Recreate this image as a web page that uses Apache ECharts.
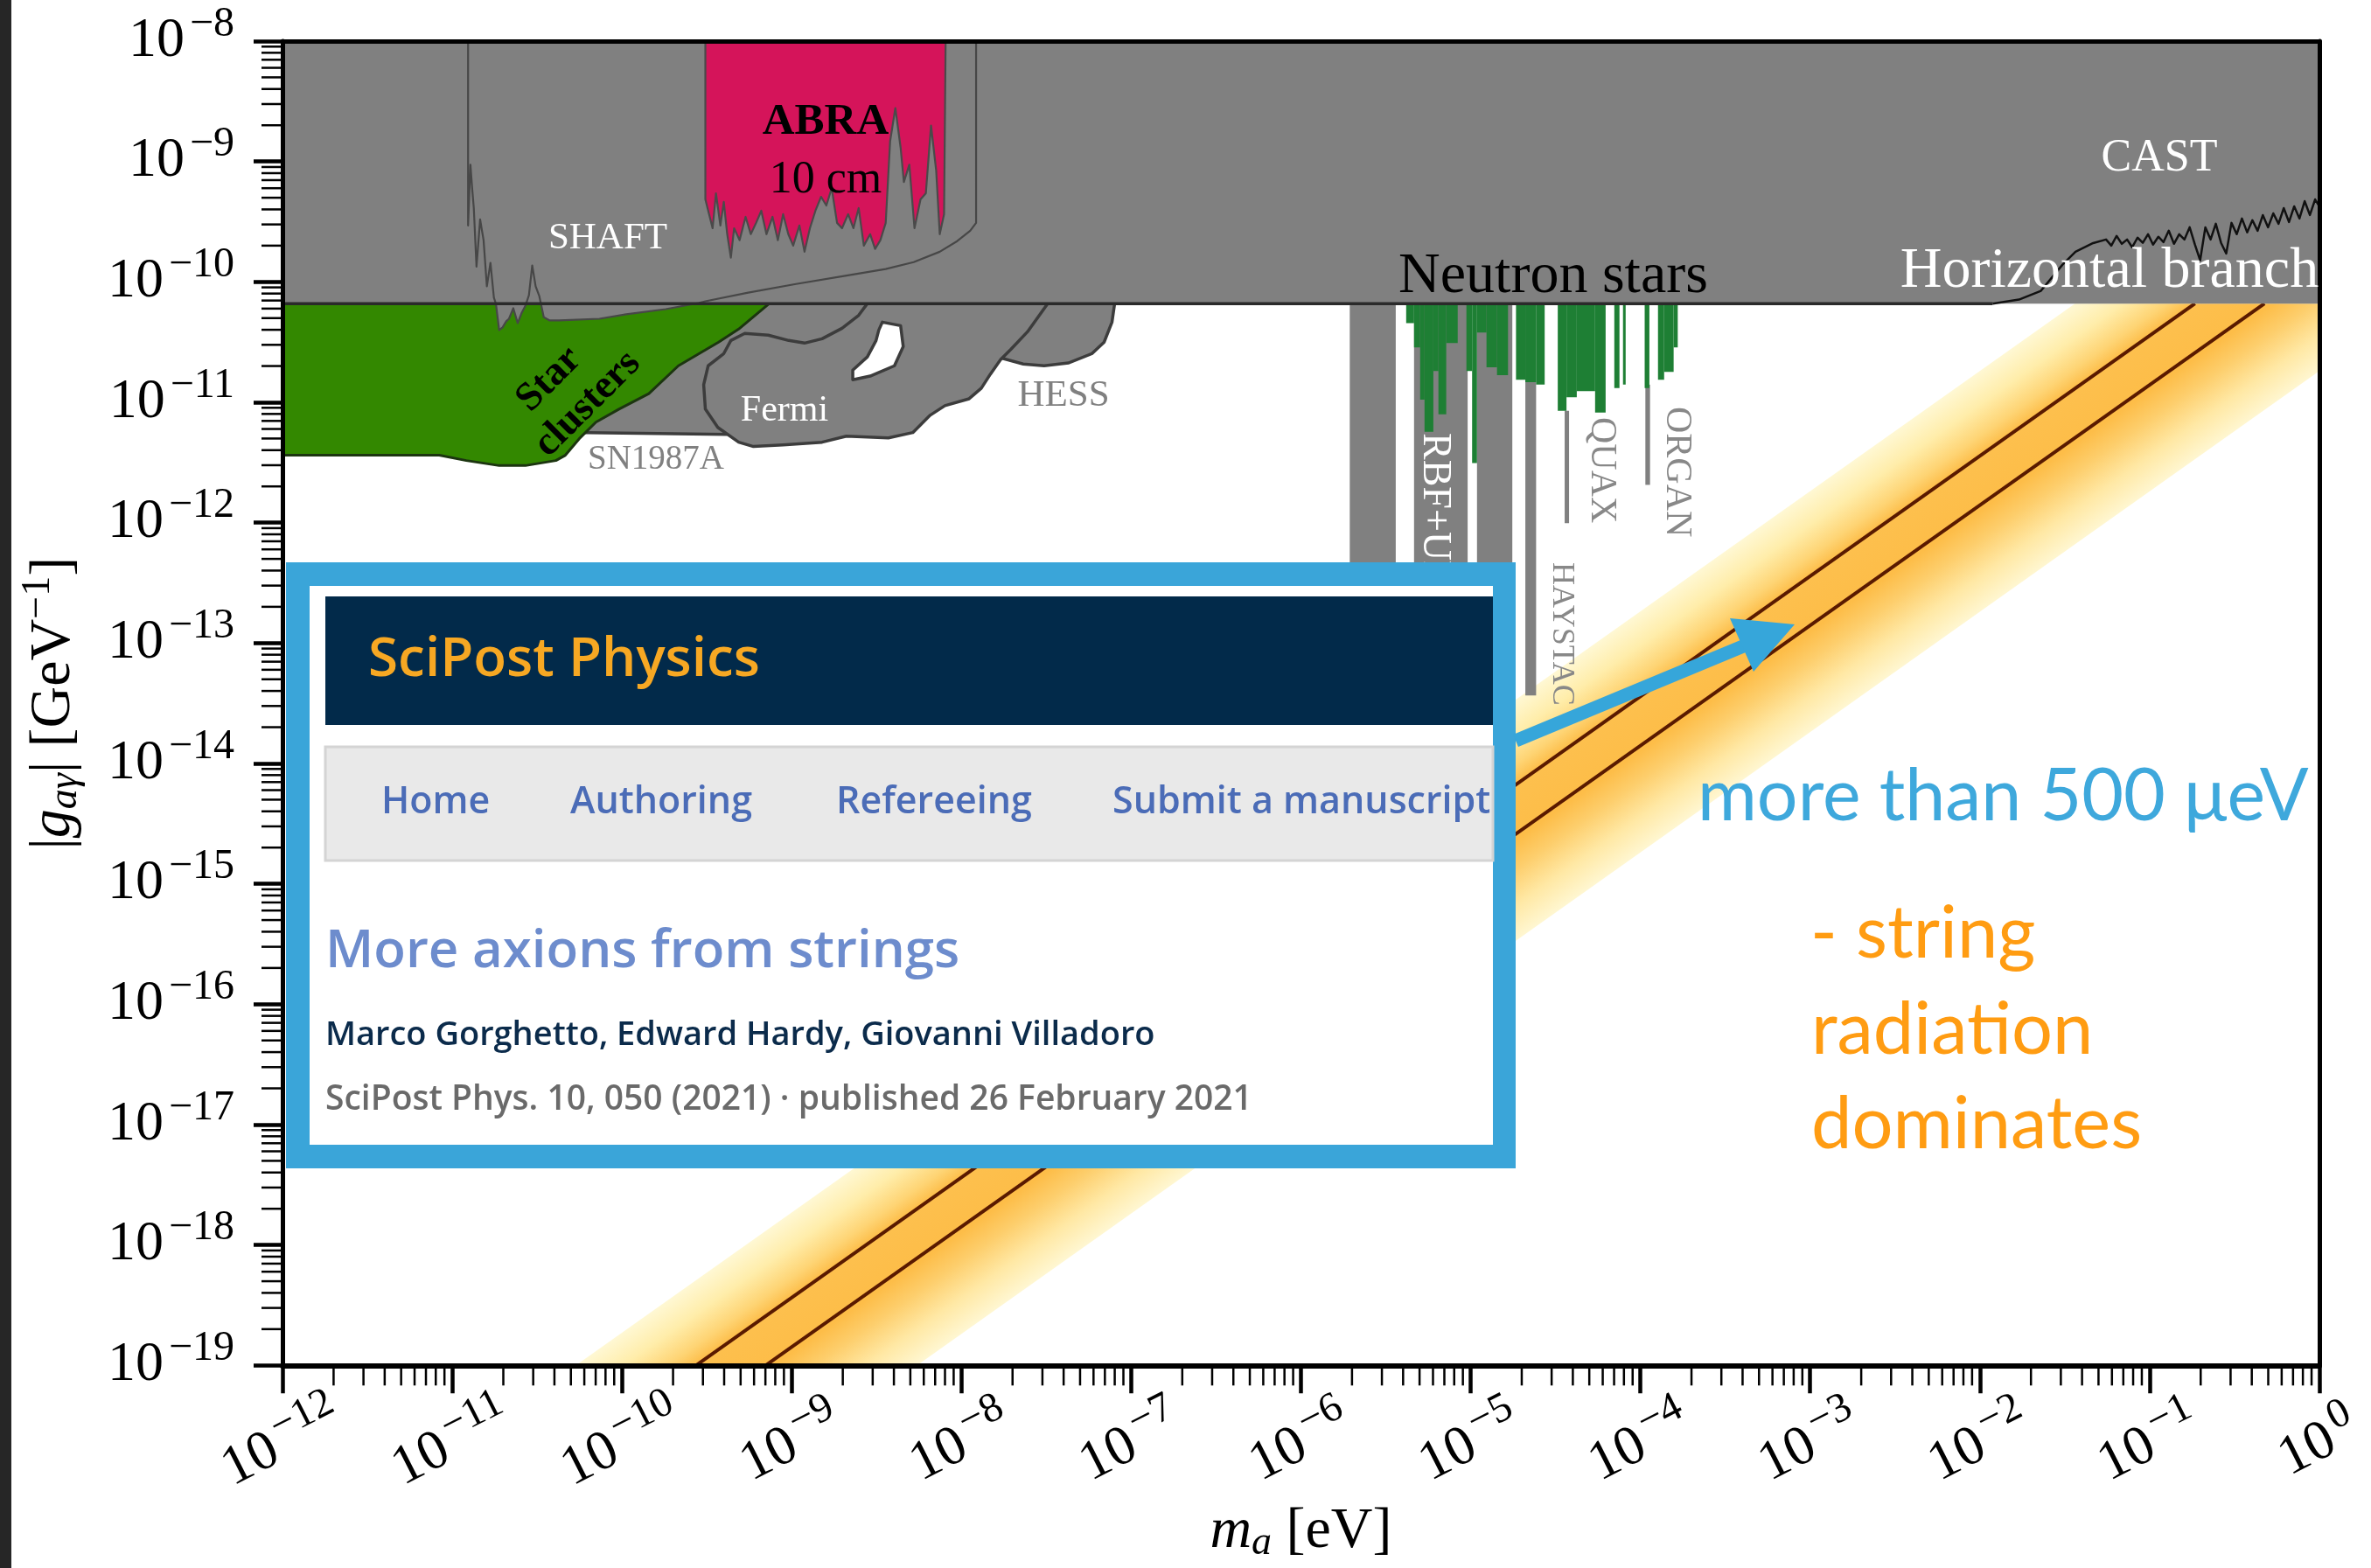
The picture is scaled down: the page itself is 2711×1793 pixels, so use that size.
<!DOCTYPE html>
<html>
<head>
<meta charset="utf-8">
<title>Axion–photon coupling: limits and string-radiation band</title>
<script src="https://cdn.jsdelivr.net/npm/echarts@6.0.0/dist/echarts.min.js"></script>
<style>
  html, body { margin: 0; padding: 0; background: #ffffff; }
  #chart { width: 2711px; height: 1793px; }
</style>
</head>
<body>
<div id="chart"></div>
<script>
// ---------------------------------------------------------------------------
// Axis ranges as powers of ten
// ---------------------------------------------------------------------------
const massDecades = [-12, -11, -10, -9, -8, -7, -6, -5, -4, -3, -2, -1, 0];          // m_a [eV]
const couplingDecades = [-19, -18, -17, -16, -15, -14, -13, -12, -11, -10, -9, -8];  // |g_aγ| [GeV^-1]

const HB_BOUND = 6.6e-11;   // horizontal-branch stars
const G_TOP = 1e-8;

// ---------------------------------------------------------------------------
// Exclusion regions, points are [m_a (eV), g_aγ (GeV^-1)]
// ---------------------------------------------------------------------------
const upperExcluded = [[1e-12, HB_BOUND], [1, HB_BOUND], [1, G_TOP], [1e-12, G_TOP]];
const horizontalBranch = [[1e-12, HB_BOUND], [1.19e-2, HB_BOUND]];

const castLimit = [
  [1.19e-2, 6.6e-11], [1.70e-2, 7.13e-11], [2.29e-2, 8.43e-11], [3.07e-2, 1.39e-10],
  [3.66e-2, 1.78e-10], [4.65e-2, 2.10e-10], [5.54e-2, 2.25e-10], [5.95e-2, 2.00e-10],
  [6.39e-2, 2.41e-10], [6.86e-2, 2.07e-10], [7.37e-2, 2.25e-10], [7.90e-2, 1.94e-10],
  [8.49e-2, 2.33e-10], [9.12e-2, 2.11e-10], [9.79e-2, 2.49e-10], [0.1048, 2.04e-10],
  [0.1126, 2.37e-10], [0.1208, 2.14e-10], [0.1297, 2.66e-10], [0.1392, 2.07e-10],
  [0.1494, 2.49e-10], [0.1605, 2.25e-10], [0.1722, 2.84e-10], [0.1849, 2.04e-10],
  [0.1985, 1.51e-10], [0.2131, 2.84e-10], [0.2287, 2.25e-10], [0.2455, 3.04e-10],
  [0.2636, 2.11e-10], [0.2829, 1.72e-10], [0.3037, 3.09e-10], [0.3260, 2.49e-10],
  [0.3500, 3.36e-10], [0.3757, 2.58e-10], [0.4033, 3.25e-10], [0.4329, 2.66e-10],
  [0.4648, 3.59e-10], [0.4989, 2.84e-10], [0.5356, 3.71e-10], [0.5749, 3.04e-10],
  [0.6172, 4.10e-10], [0.6625, 3.14e-10], [0.7112, 4.24e-10], [0.7634, 3.36e-10],
  [0.8195, 4.68e-10], [0.8797, 3.59e-10], [0.9443, 4.84e-10], [1.0, 4.24e-10]
];

const shaftLimit = [
  [1.24e-11, 1e-8], [1.24e-11, 2.94e-10], [1.28e-11, 9.4e-10], [1.31e-11, 6.0e-10],
  [1.34e-11, 4.1e-10], [1.39e-11, 1.34e-10], [1.46e-11, 3.3e-10], [1.53e-11, 2.22e-10],
  [1.60e-11, 9.2e-11], [1.68e-11, 1.44e-10], [1.76e-11, 7.4e-11], [1.81e-11, 6.56e-11],
  [1.89e-11, 3.98e-11], [1.98e-11, 4.19e-11], [2.08e-11, 4.71e-11], [2.16e-11, 4.94e-11],
  [2.29e-11, 6.04e-11], [2.43e-11, 4.55e-11], [2.57e-11, 5.56e-11], [2.70e-11, 6.35e-11],
  [2.83e-11, 7.75e-11], [2.96e-11, 1.37e-10], [3.10e-11, 9.2e-11], [3.26e-11, 7.6e-11],
  [3.46e-11, 5.1e-11], [3.75e-11, 4.78e-11], [4.27e-11, 4.78e-11], [7.37e-11, 4.94e-11],
  [1.06e-10, 5.38e-11], [1.81e-10, 5.94e-11], [2.83e-10, 6.67e-11], [3.10e-10, 6.9e-11],
  [5.54e-10, 8.15e-11], [1.06e-9, 9.6e-11], [2.03e-9, 1.12e-10], [3.58e-9, 1.28e-10],
  [5.23e-9, 1.46e-10], [7.45e-9, 1.78e-10], [9.44e-9, 2.18e-10], [1.126e-8, 2.66e-10],
  [1.22e-8, 3.09e-10], [1.22e-8, 1e-8]
];

const abraLimit = [
  [3.10e-10, 1e-8], [3.10e-10, 4.84e-10], [3.26e-10, 3.65e-10], [3.42e-10, 2.79e-10],
  [3.58e-10, 5.44e-10], [3.80e-10, 2.94e-10], [3.98e-10, 4.61e-10], [4.17e-10, 2.49e-10],
  [4.38e-10, 1.59e-10], [4.58e-10, 2.79e-10], [4.93e-10, 2.22e-10], [5.35e-10, 3.47e-10],
  [5.74e-10, 2.49e-10], [6.17e-10, 3.09e-10], [6.62e-10, 3.90e-10], [7.10e-10, 2.49e-10],
  [7.71e-10, 3.47e-10], [8.29e-10, 2.22e-10], [8.90e-10, 3.65e-10], [9.55e-10, 2.49e-10],
  [1.02e-9, 2.0e-10], [1.11e-9, 2.94e-10], [1.19e-9, 1.78e-10], [1.28e-9, 2.79e-10],
  [1.38e-9, 3.90e-10], [1.49e-9, 5.09e-10], [1.60e-9, 4.31e-10], [1.72e-9, 6.0e-10],
  [1.85e-9, 3.09e-10], [1.98e-9, 2.79e-10], [2.15e-9, 3.65e-10], [2.31e-9, 2.79e-10],
  [2.48e-9, 4.1e-10], [2.66e-9, 2.0e-10], [2.90e-9, 2.49e-10], [3.10e-9, 1.88e-10],
  [3.33e-9, 2.22e-10], [3.58e-9, 3.09e-10], [3.80e-9, 1.47e-9], [4.08e-9, 2.78e-9],
  [4.38e-9, 1.31e-9], [4.58e-9, 6.75e-10], [4.93e-9, 9.4e-10], [5.29e-9, 2.79e-10],
  [5.74e-9, 4.84e-10], [6.17e-9, 5.44e-10], [6.62e-9, 1.99e-9], [7.10e-9, 8.4e-10],
  [7.45e-9, 2.49e-10], [7.90e-9, 3.65e-10], [8.07e-9, 1e-8]
];

const starClusters = [
  [1e-12, 6.6e-11], [7.37e-10, 6.6e-11], [4.87e-10, 4.05e-11], [3.71e-10, 3.16e-11],
  [2.15e-10, 2.01e-11], [1.44e-10, 1.18e-11], [9.6e-11, 8.77e-12], [7.02e-11, 6.83e-12],
  [5.6e-11, 4.98e-12], [4.64e-11, 3.63e-12], [4.08e-11, 3.28e-12], [2.70e-11, 2.98e-12],
  [1.89e-11, 2.98e-12], [1.21e-11, 3.28e-12], [8.39e-12, 3.63e-12], [1e-12, 3.63e-12]
];

const sn1987a = [
  [3.26e-11, 6.6e-11], [2.90e-9, 6.6e-11], [8.90e-10, 1.05e-11],
  [4.13e-10, 5.41e-12], [6.37e-11, 5.6e-12], [4.13e-11, 5.6e-12]
];

const fermi = [
  [2.79e-9, 6.6e-11], [2.48e-9, 5.28e-11], [1.98e-9, 4.12e-11], [1.51e-9, 3.37e-11],
  [1.19e-9, 3.10e-11], [9.6e-10, 3.26e-11], [7.28e-10, 3.61e-11], [5.29e-10, 3.73e-11],
  [4.38e-10, 3.26e-11], [3.98e-10, 2.54e-11], [3.22e-10, 2.01e-11], [3.03e-10, 1.40e-11],
  [3.10e-10, 8.77e-12], [3.67e-10, 6.18e-12], [4.87e-10, 4.66e-12], [5.95e-10, 4.29e-12],
  [8.90e-10, 4.43e-12], [1.51e-9, 4.66e-12], [2.10e-9, 5.23e-12], [3.71e-9, 5.06e-12],
  [5.17e-9, 5.6e-12], [6.54e-9, 7.8e-12], [7.99e-9, 9.37e-12], [1.11e-8, 1.07e-11],
  [1.31e-8, 1.31e-11], [1.48e-8, 1.71e-11], [1.70e-8, 2.26e-11], [1.96e-8, 2.76e-11],
  [2.45e-8, 3.85e-11], [3.22e-8, 6.6e-11]
];

const fermiGap = [
  [3.42e-9, 4.63e-11], [4.38e-9, 4.33e-11], [4.54e-9, 2.90e-11], [4.03e-9, 2.01e-11],
  [2.90e-9, 1.65e-11], [2.29e-9, 1.54e-11], [2.29e-9, 1.85e-11], [2.79e-9, 2.38e-11],
  [3.14e-9, 3.26e-11], [3.26e-9, 3.98e-11]
];

const hess = [
  [1.51e-8, 6.6e-11], [7.99e-8, 6.6e-11], [7.71e-8, 4.63e-11], [6.93e-8, 3.16e-11],
  [5.88e-8, 2.54e-11], [4.27e-8, 2.12e-11], [3.07e-8, 2.01e-11], [2.31e-8, 2.08e-11],
  [1.70e-8, 2.34e-11], [1.51e-8, 2.86e-11]
];

// Haloscope bands in grey: [m_lo, m_hi, g_lo, g_hi]
const haloscopeBands = [
  [1.94e-6, 3.62e-6, 1e-13, HB_BOUND],     // ADMX
  [4.64e-6, 9.6e-6, 1e-13, HB_BOUND],      // RBF+UF
  [1.09e-5, 1.76e-5, 1e-13, HB_BOUND],
  [2.10e-5, 2.43e-5, 3.67e-14, HB_BOUND],  // HAYSTAC
  [3.58e-5, 3.80e-5, 9.9e-13, 8.5e-12],    // QUAX
  [1.07e-4, 1.14e-4, 2.06e-12, 1.40e-11]   // ORGAN
];

// Neutron-star radio limits: [m_lo, m_hi, g_lo]
const neutronStarLimits = [
  [4.17e-6, 4.64e-6, 4.55e-11], [4.64e-6, 5.04e-6, 2.86e-11], [5.04e-6, 5.35e-6, 1.05e-11],
  [5.35e-6, 6.03e-6, 5.69e-12], [6.03e-6, 6.46e-6, 1.82e-11], [6.46e-6, 7.18e-6, 7.94e-12],
  [7.18e-6, 8.39e-6, 3.10e-11], [9.44e-6, 1.02e-5, 1.82e-11], [1.02e-5, 1.09e-5, 3.13e-12],
  [1.09e-5, 1.24e-5, 3.79e-11], [1.24e-5, 1.43e-5, 1.95e-11], [1.43e-5, 1.66e-5, 1.68e-11],
  [1.85e-5, 2.10e-5, 1.54e-11], [2.10e-5, 2.43e-5, 1.47e-11], [2.43e-5, 2.73e-5, 1.40e-11],
  [3.26e-5, 3.67e-5, 8.48e-12], [3.67e-5, 4.22e-5, 1.10e-11], [4.22e-5, 5.41e-5, 1.24e-11],
  [5.41e-5, 6.24e-5, 8.2e-12], [7.02e-5, 7.53e-5, 1.31e-11], [7.90e-5, 8.19e-5, 1.40e-11],
  [1.06e-4, 1.13e-4, 1.31e-11], [1.27e-4, 1.38e-4, 1.54e-11], [1.38e-4, 1.57e-4, 1.79e-11],
  [1.57e-4, 1.66e-4, 2.86e-11]
];

// String-radiation prediction: two model lines and the surrounding band
const stringLineA = [[2.73e-10, 1e-19], [0.185, HB_BOUND]];
const stringLineB = [[7.02e-10, 1e-19], [0.475, HB_BOUND]];
const stringBand = [[5.35e-11, 1e-19], [3.63e-2, HB_BOUND], [1, HB_BOUND], [1, 1.82e-11], [5.48e-9, 1e-19]];

// ---------------------------------------------------------------------------
// Helpers: the axes are linear in log10 of the physical quantities
// ---------------------------------------------------------------------------
const lg = Math.log10;
const toLog = pts => pts.map(([m, g]) => [lg(m), lg(g)]);

function areaSeries(name, pts, style, z) {
  const data = toLog(pts);
  return {
    type: 'custom', name, z, silent: true, animation: false, data,
    renderItem: (params, api) => params.dataIndex !== 0 ? null : {
      type: 'polygon',
      shape: { points: data.map(p => api.coord(p)) },
      style: Object.assign({}, style)
    }
  };
}

function curveSeries(name, pts, style, z) {
  const data = toLog(pts);
  return {
    type: 'custom', name, z, silent: true, animation: false, data,
    renderItem: (params, api) => params.dataIndex !== 0 ? null : {
      type: 'polyline',
      shape: { points: data.map(p => api.coord(p)) },
      style: Object.assign({ fill: null, lineJoin: 'round' }, style)
    }
  };
}

function columnSeries(name, cols, color, z) {
  const data = cols.map(c => [lg(c[0]), lg(c[1]), lg(c[2]), lg(c[3] !== undefined ? c[3] : G_TOP)]);
  return {
    type: 'custom', name, z, silent: true, animation: false, data,
    encode: { x: [0, 1], y: [2, 3] },
    renderItem: (params, api) => {
      const a = api.coord([api.value(0), api.value(3)]);
      const b = api.coord([api.value(1), api.value(2)]);
      return { type: 'rect', shape: { x: a[0], y: a[1], width: b[0] - a[0], height: b[1] - a[1] }, style: { fill: color } };
    }
  };
}

// Band with a colour gradient running across it
const bandSeries = {
  type: 'custom', name: 'string radiation', z: 2, silent: true, animation: false,
  data: toLog(stringBand),
  renderItem(params, api) {
    if (params.dataIndex !== 0) return null;
    const pts = toLog(stringBand).map(p => api.coord(p));
    const p0 = pts[0], p1 = pts[1], pr = pts[4];
    let dx = p1[0] - p0[0], dy = p1[1] - p0[1];
    const len = Math.hypot(dx, dy); dx /= len; dy /= len;
    const nx = -dy, ny = dx;
    const w = (pr[0] - p0[0]) * nx + (pr[1] - p0[1]) * ny;
    return {
      type: 'polygon', shape: { points: pts },
      style: {
        fill: {
          type: 'linear', global: true,
          x: p0[0], y: p0[1], x2: p0[0] + nx * w, y2: p0[1] + ny * w,
          colorStops: [
            { offset: 0.00, color: '#fff8d4' },
            { offset: 0.14, color: '#ffedaa' },
            { offset: 0.27, color: '#fed474' },
            { offset: 0.34, color: '#fdc04e' },
            { offset: 0.58, color: '#fdbd48' },
            { offset: 0.70, color: '#fdce6c' },
            { offset: 0.85, color: '#ffe8a4' },
            { offset: 1.00, color: '#fff7d2' }
          ]
        }
      }
    };
  }
};

// Minor ticks at 2..9 × 10^n, drawn outside the plotting area
const xMinor = [], yMinor = [];
for (let e = massDecades[0]; e < massDecades[massDecades.length - 1]; e++)
  for (let k = 2; k <= 9; k++) xMinor.push([e + lg(k), couplingDecades[0]]);
for (let e = couplingDecades[0]; e < couplingDecades[couplingDecades.length - 1]; e++)
  for (let k = 2; k <= 9; k++) yMinor.push([massDecades[0], e + lg(k)]);

const minorTickSeries = [
  {
    type: 'custom', name: 'x minor ticks', z: 20, silent: true, animation: false, clip: false, data: xMinor,
    renderItem: (params, api) => {
      const p = api.coord([api.value(0), api.value(1)]);
      return { type: 'line', shape: { x1: p[0], y1: p[1], x2: p[0], y2: p[1] + 23 }, style: { stroke: '#000', lineWidth: 2.5 } };
    }
  },
  {
    type: 'custom', name: 'y minor ticks', z: 20, silent: true, animation: false, clip: false, data: yMinor,
    renderItem: (params, api) => {
      const p = api.coord([api.value(0), api.value(1)]);
      return { type: 'line', shape: { x1: p[0], y1: p[1], x2: p[0] - 24, y2: p[1] }, style: { stroke: '#000', lineWidth: 2.5 } };
    }
  }
];

// ---------------------------------------------------------------------------
// Axis labels in the form 10^n
// ---------------------------------------------------------------------------
const SERIF = 'Liberation Serif';
const powerLabel = v => {
  const n = Math.round(v);
  return '{b|10}{s|' + (n < 0 ? '\u2212' + (-n) : String(n)) + '}';
};
const tickRich = {
  b: { fontSize: 64, fontFamily: SERIF, color: '#000' },
  s: { fontSize: 48, fontFamily: SERIF, color: '#000', padding: [0, 0, 38, 6] }
};
const nameRich = {
  t: { fontSize: 66, fontFamily: SERIF, color: '#000' },
  it: { fontSize: 66, fontFamily: SERIF, fontStyle: 'italic', color: '#000' },
  sub: { fontSize: 46, fontFamily: SERIF, fontStyle: 'italic', color: '#000', padding: [26, 0, 0, 0] },
  sup: { fontSize: 46, fontFamily: SERIF, color: '#000', padding: [0, 0, 36, 0] }
};

const frameAxis = (pos, width) => ({
  type: 'value', position: pos, z: 20, silent: true,
  axisLine: { show: true, onZero: false, lineStyle: { color: '#000', width } },
  axisTick: { show: false }, axisLabel: { show: false }, splitLine: { show: false }
});

// ---------------------------------------------------------------------------
// Annotations
// ---------------------------------------------------------------------------
function label(text, x, y, size, color, opts) {
  opts = opts || {};
  return {
    type: 'text', x, y, z: 60, rotation: opts.rotation || 0, silent: true,
    style: {
      text, fill: color, fontSize: size, fontFamily: opts.family || SERIF,
      fontWeight: opts.weight || 'normal', align: opts.align || 'center', verticalAlign: 'middle'
    }
  };
}

const SANS = 'Open Sans';
const card = (el) => Object.assign(el, { z: 85 });
const overlay = [
  // dark page edge
  { type: 'rect', z: 90, silent: true, shape: { x: 0, y: 0, width: 13, height: 1793 }, style: { fill: '#262626' } },

  // framed paper card
  { type: 'rect', z: 80, silent: true, shape: { x: 327, y: 643, width: 1406, height: 693 }, style: { fill: '#3aa5d9' } },
  { type: 'rect', z: 81, silent: true, shape: { x: 354, y: 670, width: 1353, height: 639 }, style: { fill: '#ffffff' } },
  { type: 'rect', z: 82, silent: true, shape: { x: 372, y: 682, width: 1335, height: 147 }, style: { fill: '#022a4a' } },
  { type: 'rect', z: 82, silent: true, shape: { x: 372, y: 854, width: 1335, height: 130 }, style: { fill: '#e9e9e9', stroke: '#d4d4d4', lineWidth: 3 } },
  card(label('SciPost Physics', 421, 755, 62, '#f7a823', { family: SANS, weight: 600, align: 'left' })),
  card(label('Home', 436, 918, 43, '#4b6cb7', { family: SANS, weight: 600, align: 'left' })),
  card(label('Authoring', 652, 918, 43, '#4b6cb7', { family: SANS, weight: 600, align: 'left' })),
  card(label('Refereeing', 956, 918, 43, '#4b6cb7', { family: SANS, weight: 600, align: 'left' })),
  card(label('Submit a manuscript', 1272, 918, 43, '#4b6cb7', { family: SANS, weight: 600, align: 'left' })),
  card(label('More axions from strings', 372, 1089, 60, '#6d8ccd', { family: SANS, weight: 600, align: 'left' })),
  card(label('Marco Gorghetto, Edward Hardy, Giovanni Villadoro', 372, 1184, 38, '#0b2b4b', { family: SANS, weight: 600, align: 'left' })),
  card(label('SciPost Phys. 10, 050 (2021) \u00b7 published 26 February 2021', 372, 1258, 39, '#6a6a6a', { family: SANS, weight: 600, align: 'left' })),

  // pointer arrow
  { type: 'polygon', z: 86, silent: true, shape: { points: [[1730, 840], [1990, 732], [1996, 746], [1736, 854]] }, style: { fill: '#36a6da' } },
  { type: 'polygon', z: 86, silent: true, shape: { points: [[1978, 707], [2052, 714], [2005, 768]] }, style: { fill: '#36a6da' } },

  // side remarks
  card(label('more than 500 \u03bceV', 1941, 911, 82.5, '#3ea8dc', { family: 'Lato', align: 'left' })),
  card(label('- string', 2070, 1068, 83, '#ff9c12', { family: 'Lato', align: 'left' })),
  card(label('radiation', 2071, 1178, 83, '#ff9c12', { family: 'Lato', align: 'left' })),
  card(label('dominates', 2071, 1286, 83, '#ff9c12', { family: 'Lato', align: 'left' }))
];

const regionLabels = [
  label('SHAFT', 695, 273, 43, '#ffffff'),
  label('ABRA', 944, 140, 51, '#000000', { weight: 'bold' }),
  label('10 cm', 944, 206, 52, '#000000'),
  label('CAST', 2469, 181, 52, '#ffffff'),
  label('Horizontal branch', 2412, 311, 66, '#ffffff'),
  label('Neutron stars', 1776, 317, 66, '#000000'),
  label('Star', 628, 434, 46, '#000000', { weight: 'bold', rotation: Math.PI / 4 }),
  label('clusters', 672, 462, 46, '#000000', { weight: 'bold', rotation: Math.PI / 4 }),
  label('Fermi', 897, 470, 42, '#ffffff'),
  label('HESS', 1216, 453, 43, '#808080'),
  label('SN1987A', 750, 526, 39, '#808080'),
  label('RBF+UF', 1640, 495, 46, '#ffffff', { rotation: -Math.PI / 2, align: 'left' }),
  label('QUAX', 1831, 477, 42, '#888888', { rotation: -Math.PI / 2, align: 'left' }),
  label('ORGAN', 1917, 465, 42, '#888888', { rotation: -Math.PI / 2, align: 'left' }),
  label('HAYSTAC', 1785, 643, 36, '#888888', { rotation: -Math.PI / 2, align: 'left' })
];

// ---------------------------------------------------------------------------
// Chart
// ---------------------------------------------------------------------------
const GREY = '#808080';
const EDGE = '#3c3c3c';

const option = {
  backgroundColor: '#ffffff',
  animation: false,
  grid: { left: 323, right: 46, top: 47, bottom: 223 },
  xAxis: [
    {
      type: 'value', position: 'bottom', z: 20,
      min: massDecades[0], max: massDecades[massDecades.length - 1], interval: 1,
      axisLine: { show: true, onZero: false, lineStyle: { color: '#000', width: 6 } },
      axisTick: { show: true, length: 32, lineStyle: { color: '#000', width: 4.5 } },
      splitLine: { show: false },
      axisLabel: {
        interval: 0, hideOverlap: false, rotate: 27, align: 'center', verticalAlign: 'middle',
        margin: 90, formatter: powerLabel, rich: tickRich
      },
      name: '{it|m}{sub|a}{t| [eV]}', nameLocation: 'middle', nameGap: 150,
      nameTextStyle: { fontSize: 66, fontFamily: SERIF, color: '#000', rich: nameRich }
    },
    Object.assign(frameAxis('top', 5), { min: massDecades[0], max: massDecades[massDecades.length - 1] })
  ],
  yAxis: [
    {
      type: 'value', position: 'left', z: 20,
      min: couplingDecades[0], max: couplingDecades[couplingDecades.length - 1], interval: 1,
      axisLine: { show: true, onZero: false, lineStyle: { color: '#000', width: 5 } },
      axisTick: { show: true, length: 33, lineStyle: { color: '#000', width: 4.5 } },
      splitLine: { show: false },
      axisLabel: { interval: 0, margin: 55, formatter: powerLabel, rich: tickRich },
      name: '{t||}{it|g}{sub|a\u03b3}{t|| [GeV}{sup|\u22121}{t|]}',
      nameLocation: 'middle', nameRotate: 90, nameGap: 220,
      nameTextStyle: { fontSize: 66, fontFamily: SERIF, color: '#000', rich: nameRich }
    },
    Object.assign(frameAxis('right', 5), { min: couplingDecades[0], max: couplingDecades[couplingDecades.length - 1] })
  ],
  series: [
    bandSeries,
    curveSeries('string line A', stringLineA, { stroke: '#5a1a00', lineWidth: 4 }, 3),
    curveSeries('string line B', stringLineB, { stroke: '#5a1a00', lineWidth: 4 }, 3),
    columnSeries('haloscopes', haloscopeBands, GREY, 4),
    columnSeries('neutron stars', neutronStarLimits, '#1e7f34', 5),
    areaSeries('SN1987A', sn1987a, { fill: GREY, stroke: EDGE, lineWidth: 3.5 }, 6),
    areaSeries('HESS', hess, { fill: GREY, stroke: EDGE, lineWidth: 3.5 }, 6),
    areaSeries('Fermi', fermi, { fill: GREY, stroke: EDGE, lineWidth: 3.5, lineJoin: 'round' }, 7),
    areaSeries('Fermi gap', fermiGap, { fill: '#ffffff', stroke: EDGE, lineWidth: 3.5, lineJoin: 'round' }, 8),
    areaSeries('star clusters', starClusters, { fill: '#338800', stroke: '#1c3510', lineWidth: 3, lineJoin: 'round' }, 9),
    areaSeries('helioscope / HB', upperExcluded, { fill: GREY }, 10),
    areaSeries('SHAFT', shaftLimit, { fill: GREY }, 11),
    areaSeries('ABRA', abraLimit, { fill: '#d5145a' }, 12),
    curveSeries('SHAFT edge', shaftLimit, { stroke: '#474747', lineWidth: 2.2 }, 13),
    curveSeries('ABRA edge', abraLimit, { stroke: '#4a4a4a', lineWidth: 2.2 }, 13),
    curveSeries('horizontal branch', horizontalBranch, { stroke: '#2a2a2a', lineWidth: 3.5 }, 13),
    curveSeries('CAST', castLimit, { stroke: '#111111', lineWidth: 2.5 }, 13),
    ...minorTickSeries
  ],
  graphic: { elements: regionLabels.concat(overlay) }
};

const chart = echarts.init(document.getElementById('chart'), null, { renderer: 'canvas' });
chart.setOption(option);
</script>
</body>
</html>
